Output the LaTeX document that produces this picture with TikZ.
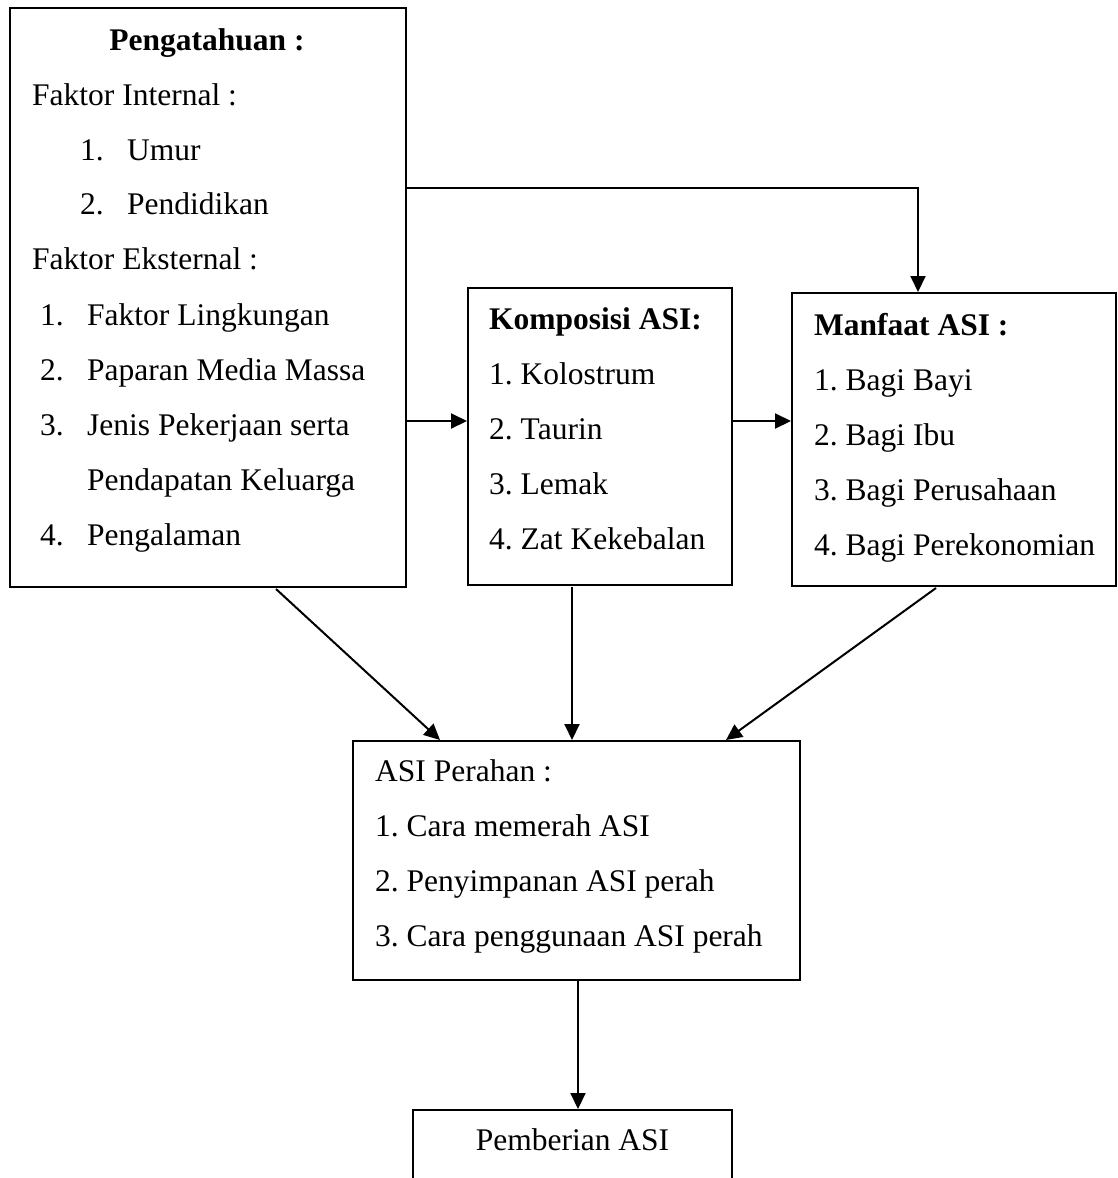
\documentclass[tikz,border=0pt]{standalone}
\usepackage{fontspec}
\setmainfont{Liberation Serif}
\frenchspacing
\usetikzlibrary{arrows.meta}
\begin{document}
\begin{tikzpicture}[x=1pt,y=-1pt,
 box/.style={draw,line width=2pt,inner sep=0pt},
 txt/.style={anchor=base west,inner sep=0pt,font=\fontsize{31.5}{37}\selectfont},
 ttl/.style={anchor=base west,inner sep=0pt,font=\fontsize{31.5}{37}\selectfont\bfseries},
 conn/.style={line width=2pt,-{Triangle[length=16pt,width=15pt]}}]
\useasboundingbox (0,0) rectangle (1117,1178);
\clip (0,0) rectangle (1117,1178);
\fill[white] (0,0) rectangle (1117,1178);

% boxes
\node[box,minimum width=396pt,minimum height=579pt] (A) at (208,297.5) {};
\node[box,minimum width=264pt,minimum height=297pt] (B) at (600,436.5) {};
\node[box,minimum width=324pt,minimum height=293pt] (C) at (954,439.5) {};
\node[box,minimum width=447pt,minimum height=239pt] (D) at (576.5,860.5) {};
\node[box,minimum width=319pt,minimum height=90pt] (E) at (572.5,1155) {};

% texts of A
\node[ttl,anchor=base] (a0) at (207,50) {Pengatahuan :};
\node[txt] (a1) at (32,105) {Faktor Internal :};
\node[txt] (a2n) at (80,160) {1.};
\node[txt] (a2) at (127,160) {Umur};
\node[txt] (a3n) at (80,214) {2.};
\node[txt] (a3) at (127,214) {Pendidikan};
\node[txt] (a4) at (32,269) {Faktor Eksternal :};
\node[txt] (a5n) at (40,325) {1.};
\node[txt] (a5) at (87,325) {Faktor Lingkungan};
\node[txt] (a6n) at (40,380) {2.};
\node[txt] (a6) at (87,380) {Paparan Media Massa};
\node[txt] (a7n) at (40,435) {3.};
\node[txt] (a7) at (87,435) {Jenis Pekerjaan serta};
\node[txt] (a8) at (87,490) {Pendapatan Keluarga};
\node[txt] (a9n) at (40,545) {4.};
\node[txt] (a9) at (87,545) {Pengalaman};

% texts of B
\node[ttl] (b0) at (489,329) {Komposisi ASI:};
\node[txt] (b1) at (489,384) {1. Kolostrum};
\node[txt] (b2) at (489,439) {2. Taurin};
\node[txt] (b3) at (489,494) {3. Lemak};
\node[txt] (b4) at (489,549) {4. Zat Kekebalan};

% texts of C
\node[ttl] (c0) at (814,335) {Manfaat ASI :};
\node[txt] (c1) at (814,390) {1. Bagi Bayi};
\node[txt] (c2) at (814,445) {2. Bagi Ibu};
\node[txt] (c3) at (814,500) {3. Bagi Perusahaan};
\node[txt] (c4) at (814,555) {4. Bagi Perekonomian};

% texts of D
\node[txt] (d0) at (375,781) {ASI Perahan :};
\node[txt] (d1) at (375,836) {1. Cara memerah ASI};
\node[txt] (d2) at (375,891) {2. Penyimpanan ASI perah};
\node[txt] (d3) at (375,946) {3. Cara penggunaan ASI perah};

% text of E
\node[txt,anchor=base] (e0) at (572.5,1150) {Pemberian ASI};

% helper coordinates
\coordinate (yTop) at (0,188);
\coordinate (yMid) at (0,421);
\coordinate (xAC) at (918,0);
\coordinate (xAs) at (276,0);
\coordinate (xAd) at (440,0);
\coordinate (xB) at (572,0);
\coordinate (xCs) at (936,0);
\coordinate (xCd) at (726,0);
\coordinate (xD) at (578,0);

% connectors
\draw[conn] (A.east |- yTop) -| (C.north -| xAC);
\draw[conn] (A.east |- yMid) -- (B.west |- yMid);
\draw[conn] (B.east |- yMid) -- (C.west |- yMid);
\draw[conn] ([yshift=-1pt]A.south -| xAs) -- (D.north -| xAd);
\draw[conn] ([yshift=-1pt]B.south -| xB) -- (D.north -| xB);
\draw[conn] ([yshift=-1pt]C.south -| xCs) -- (D.north -| xCd);
\draw[conn] (D.south -| xD) -- (E.north -| xD);
\end{tikzpicture}
\end{document}
